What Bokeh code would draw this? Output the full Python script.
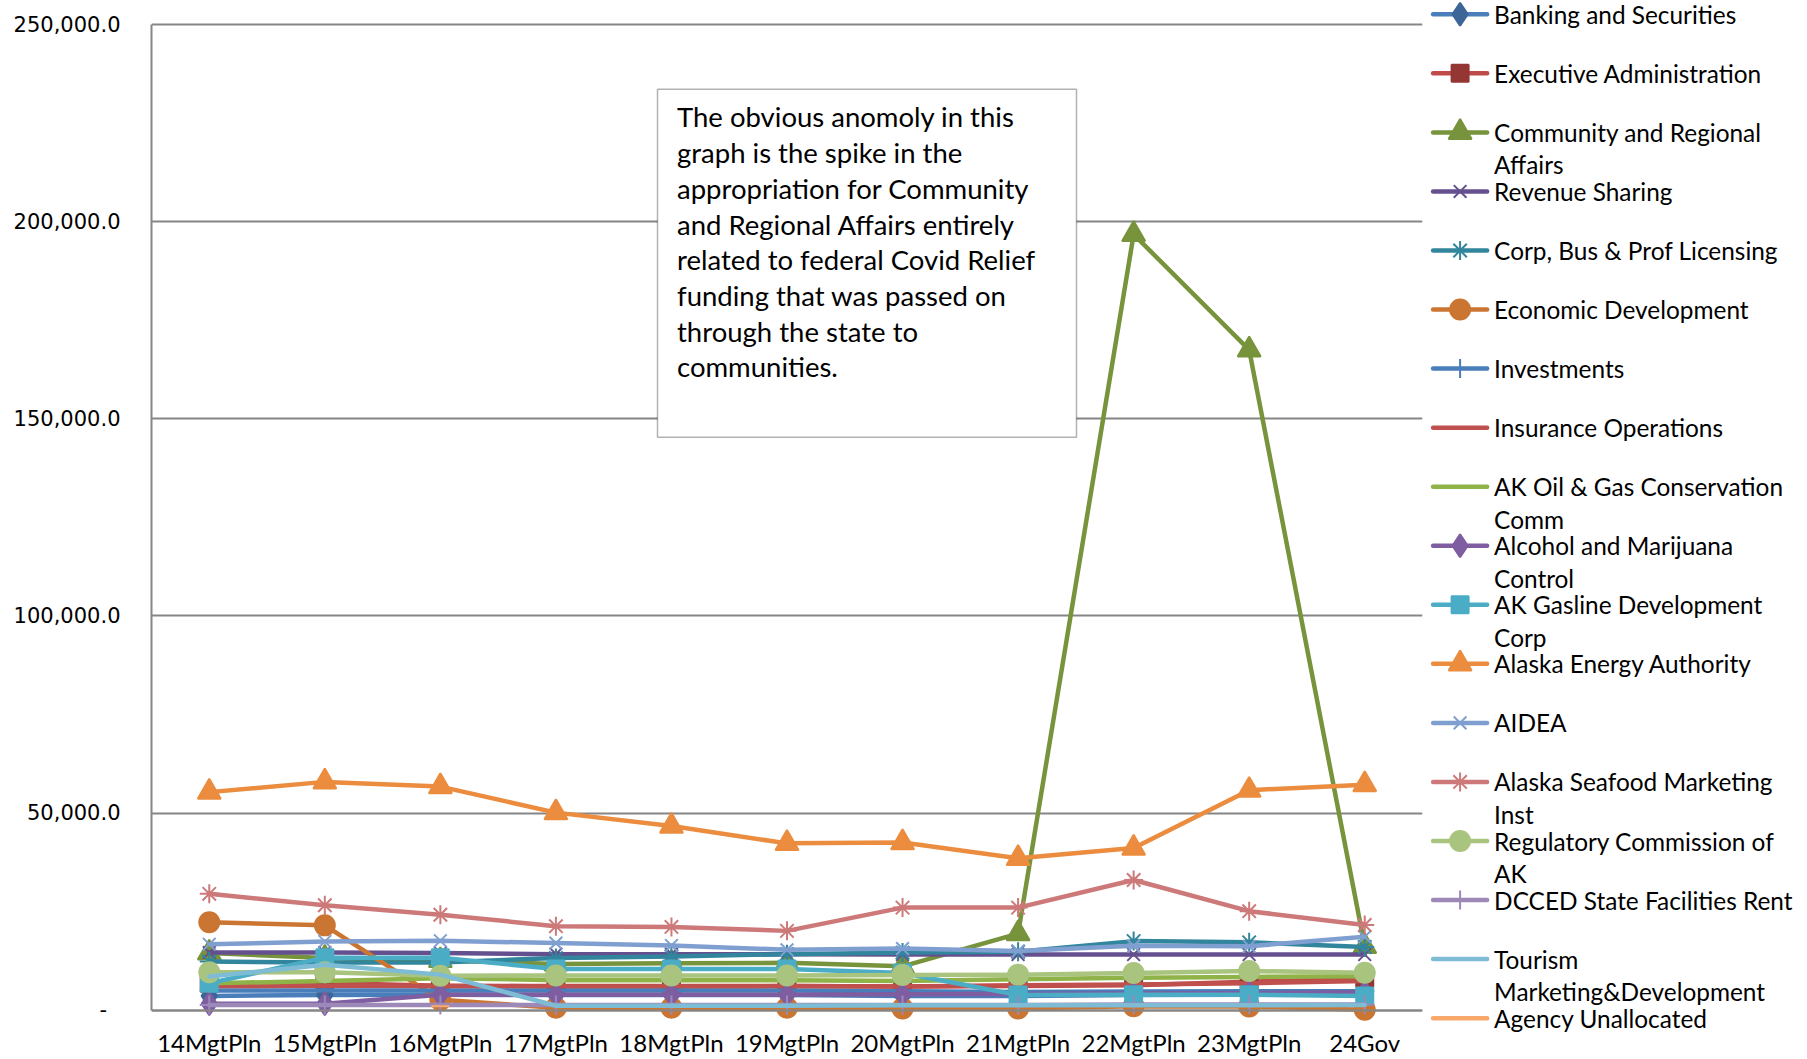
import math
from bokeh.plotting import figure
from bokeh.models import (FactorRange, Range1d, FixedTicker, CustomJSTickFormatter,
                          BoxAnnotation, Label, ColumnDataSource)
from bokeh.layouts import row
from bokeh.embed import file_html
from bokeh.resources import INLINE
from bokeh.core.properties import value

NaN = float("nan")

categories = ["14MgtPln", "15MgtPln", "16MgtPln", "17MgtPln", "18MgtPln", "19MgtPln",
              "20MgtPln", "21MgtPln", "22MgtPln", "23MgtPln", "24Gov"]
y_ticks = [0, 50000, 100000, 150000, 200000, 250000]

banking = [3600, 3800, 3900, 3800, 3800, 3800, 3600, 3600, 3800, 3900, 4000]
exec_admin = [6800, 6900, 6200, 6000, 6000, 6100, 6000, 6100, 6300, 7200, 8000]
community = [14500, 13200, 12600, 11700, 11900, 12000, 11100, 19400, 196800, 167500, 16200]
revenue = [14600, 14600, 14500, 14200, 14200, 14200, 14100, 14100, 14100, 14100, 14100]
corp_bus = [12300, 12100, 12100, 13200, 13600, 14200, 14600, 14800, 17500, 17200, 16000]
econ_dev = [22300, 21500, 2600, 600, 600, 600, 400, 400, 1000, 900, 100]
investments = [5000, 5000, 5000, 5000, 5000, 5000, 4800, 4600, 4700, 4800, 4800]
insurance = [6100, 6200, 6100, 6100, 6100, 6100, 6000, 6300, 6500, 6800, 7400]
ak_oil_gas = [6800, 7400, 8100, 7600, 7600, 7600, 7400, 7800, 8200, 8400, 8600]
alcohol = [1600, 1600, 3900, 3900, 3900, 3900, 4000, 4100, 4200, 4300, 4500]
gasline = [6800, 13300, 13300, 10400, 10400, 10400, 9400, 3800, 3900, 3900, 3600]
energy = [55300, 57900, 56700, 50100, 46700, 42300, 42500, 38500, 41100, 55800, 57200]
aidea = [16700, 17400, 17600, 17000, 16400, 15300, 15600, 15000, 16300, 16200, 18600]
seafood = [29500, 26600, 24200, 21300, 21100, 20100, 26000, 26000, 33000, 25100, 21600]
regulatory = [9600, 9600, 8700, 8800, 8800, 8800, 8900, 9000, 9400, 9900, 9500]
dcced_rent = [1300, 1300, 1300, 1300, 1300, 1300, 1300, 1300, 1400, 1400, 1400]
tourism = [8500, 11500, 9000, 1100, 1100, 1100, 1200, 1200, 1200, 1200, 1300]
agency_unalloc = [NaN, NaN, 1000, NaN, NaN, NaN, NaN, NaN, NaN, NaN, NaN]

series_names = ["Banking and Securities", "Executive Administration",
                "Community and Regional Affairs", "Revenue Sharing",
                "Corp, Bus & Prof Licensing", "Economic Development", "Investments",
                "Insurance Operations", "AK Oil & Gas Conservation Comm",
                "Alcohol and Marijuana Control", "AK Gasline Development Corp",
                "Alaska Energy Authority", "AIDEA", "Alaska Seafood Marketing Inst",
                "Regulatory Commission of AK", "DCCED State Facilities Rent",
                "Tourism Marketing&Development", "Agency Unallocated"]
legend_lines = [["Banking and Securities"], ["Executive Administration"],
                ["Community and Regional", "Affairs"], ["Revenue Sharing"],
                ["Corp, Bus & Prof Licensing"], ["Economic Development"], ["Investments"],
                ["Insurance Operations"], ["AK Oil & Gas Conservation", "Comm"],
                ["Alcohol and Marijuana", "Control"], ["AK Gasline Development", "Corp"],
                ["Alaska Energy Authority"], ["AIDEA"], ["Alaska Seafood Marketing", "Inst"],
                ["Regulatory Commission of", "AK"], ["DCCED State Facilities Rent"],
                ["Tourism", "Marketing&Development"], ["Agency Unallocated"]]
series_values = [banking, exec_admin, community, revenue, corp_bus, econ_dev, investments,
                 insurance, ak_oil_gas, alcohol, gasline, energy, aidea, seafood,
                 regulatory, dcced_rent, tourism, agency_unalloc]

note_lines = ["The obvious anomoly in this", "graph is the spike in the",
              "appropriation for Community", "and Regional Affairs entirely",
              "related to federal Covid Relief", "funding that was passed on",
              "through the state to", "communities."]

# styles: (line colour, marker, marker colour, marker size)
styles = [
    ("#4A7EBB", "diamond", "#3C6698", 23),
    ("#BE4B48", "square", "#943634", 17),
    ("#77933C", "triangle", "#77933C", 23),
    ("#65508F", "x", "#65508F", 18),
    ("#31859C", "asterisk", "#31859C", 19),
    ("#CB7532", "circle", "#CB7532", 20),
    ("#4A7EBB", "cross", "#4A7EBB", 19),
    ("#C0504D", None, None, 0),
    ("#8FB349", None, None, 0),
    ("#7E5DA0", "diamond", "#7E5DA0", 23),
    ("#4BACC6", "square", "#4BACC6", 17),
    ("#EB8C3E", "triangle", "#EB8C3E", 23),
    ("#7F9FD0", "x", "#7F9FD0", 18),
    ("#CD7979", "asterisk", "#CD7979", 19),
    ("#A9C47F", "circle", "#A9C47F", 20),
    ("#9C89B8", "cross", "#9C89B8", 19),
    ("#7DBCD4", None, None, 0),
    ("#F9A86B", "dash", "#F9A86B", 18),
]

# geometry in page pixels
FL, FR = 151, 1422          # plot area left / right
FT, FB = 24.2, 1009.6       # y of 250,000 and of 0
H = 1059
MW = 1424                   # main figure width
LW = 376                    # legend panel width
KPX = (FB - FT) / 250000.0  # px per unit

p = figure(width=MW, height=H, x_range=FactorRange(factors=categories, range_padding=0),
           y_range=Range1d(-(H - FB) / KPX, FB / KPX), output_backend="svg",
           toolbar_location=None, min_border_left=FL, min_border_right=MW - FR,
           min_border_top=0, min_border_bottom=0)
p.title.visible = False
p.outline_line_color = None
p.xgrid.grid_line_color = None
p.ygrid.grid_line_color = "#868686"
p.ygrid.grid_line_width = 2

p.yaxis.ticker = FixedTicker(ticks=y_ticks)
p.yaxis.bounds = (y_ticks[0], y_ticks[-1])
p.yaxis.formatter = CustomJSTickFormatter(code=r"""
if (tick == 0) { return "-\u00a0\u00a0"; }
var s = Math.round(tick).toString().replace(/\B(?=(\d{3})+(?!\d))/g, ",");
return s + ".0";
""")
p.xaxis.fixed_location = 0
for ax in (p.xaxis, p.yaxis):
    ax.axis_line_color = "#868686"
    ax.axis_line_width = 2
    ax.major_tick_in = 0
    ax.major_tick_out = 0
    ax.minor_tick_in = 0
    ax.minor_tick_out = 0
    ax.major_label_text_color = "#000000"
p.yaxis.major_label_text_font = "DejaVu Sans"
p.yaxis.major_label_text_font_size = "21px"
p.yaxis.major_label_standoff = 31
p.xaxis.major_label_text_font = "Lato"
p.xaxis.major_label_text_font_size = "24px"
p.xaxis.major_label_standoff = 18

for vals, (lc, mk, mf, ms) in zip(series_values, styles):
    src = ColumnDataSource(dict(x=categories, y=vals))
    p.line("x", "y", source=src, line_color=lc, line_width=4.5,
           line_join="round", line_cap="round")
    if mk:
        p.scatter("x", "y", source=src, marker=mk, size=ms, fill_color=mf,
                  line_color=mf, line_width=2)

# note box (positioned in page pixels, converted to the frame's coordinates)
def px_x(px):
    return (px - FL) / ((FR - FL) / len(categories))

def px_y(py):
    return (FB - py) / KPX

p.add_layout(BoxAnnotation(left=px_x(657), right=px_x(1076), top=px_y(88.7),
                           bottom=px_y(436.8), fill_color="white", fill_alpha=1.0,
                           line_color="black", line_width=1.5))
for k, t in enumerate(note_lines):
    p.add_layout(Label(x=px_x(676.5), y=px_y(116.4 + 35.7 * k), text=t, text_font="Lato",
                       text_font_size="27.5px", text_baseline="middle", text_align="left",
                       text_color="#000000"))

# legend panel (coordinates = pixels inside the panel)
leg = figure(width=LW, height=H, x_range=Range1d(0, LW), y_range=Range1d(H, 0),
             output_backend="svg", toolbar_location=None, min_border=0,
             min_border_left=0, min_border_right=0, min_border_top=0, min_border_bottom=0,
             x_axis_location=None, y_axis_location=None)
leg.title.visible = False
leg.grid.visible = False
leg.outline_line_color = None
X0 = 1432.6 - MW
for i, (lines, (lc, mk, mf, ms)) in enumerate(zip(legend_lines, styles)):
    yy = 13.8 + 59.05 * i
    leg.line(x=[X0, X0 + 54], y=[yy, yy], line_color=lc, line_width=4.5, line_cap="round")
    if mk:
        leg.scatter(x=[X0 + 27], y=[yy], marker=mk, size=ms, fill_color=mf, line_color=mf,
                    line_width=2)
    for j, t in enumerate(lines):
        leg.text(x=[X0 + 61], y=[yy + 32.3 * j], text=[t], text_font=value("Lato"),
                 text_font_size=value("24.4px"), text_baseline="middle", text_align="left",
                 text_color="#000000")

layout = row(p, leg)
open("out.html", "w").write(file_html(layout, INLINE))
